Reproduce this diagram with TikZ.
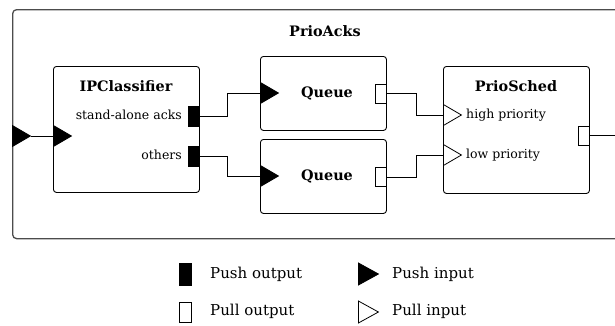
\documentclass[tikz,border=0pt]{standalone}
\usepackage{fontspec}
\setmainfont{DejaVu Serif}
\usetikzlibrary{shapes.geometric}
\tikzset{
  element/.style={draw=black, line width=0.9pt, rounded corners=3pt, fill=white, anchor=north west, inner sep=0pt},
  compound/.style={draw=black!70, line width=1.3pt, rounded corners=4pt, anchor=north west, inner sep=0pt},
  title/.style={font=\bfseries\fontsize{14.4}{16}\selectfont, inner sep=0pt},
  portlabel/.style={font=\fontsize{12.5}{14}\selectfont, inner sep=0pt},
  legendlabel/.style={font=\fontsize{15}{17}\selectfont, inner sep=0pt, anchor=west},
  pushout/.style={draw=black, fill=black, line width=0.8pt, minimum width=11pt, minimum height=20pt, inner sep=0pt},
  pullout/.style={draw=black, fill=white, line width=0.8pt, minimum width=11pt, minimum height=19pt, inner sep=0pt},
  pushin/.style={isosceles triangle, isosceles triangle stretches, draw=black, fill=black, line width=0.8pt,
                 minimum width=21pt, minimum height=18pt, inner sep=0pt, anchor=west},
  pullin/.style={pushin, fill=white},
  wire/.style={draw=black, line width=0.9pt},
}
\begin{document}
\begin{tikzpicture}[x=1pt,y=-1pt]
\clip (0,0) rectangle (615,325);

% enclosing compound element
\node[compound, minimum width=640pt, minimum height=229pt] (prioacks) at (12,9) {};
\node[title] (prioackstitle) at (325,31) {PrioAcks};
\node[pushin] (extin) at (12,136) {};

% IPClassifier
\node[element, minimum width=146pt, minimum height=126pt] (ipc) at (53,66) {};
\node[title] (ipctitle) at (126,86) {IPClassifier};
\node[portlabel, anchor=east] (salabel) at (182,115) {stand-alone acks};
\node[portlabel, anchor=east] (othlabel) at (182,155) {others};
\node[pushout] (sa) at (193.5,116) {};
\node[pushout] (oth) at (193.5,156) {};
\node[pushin] (ipcin) at (53,136) {};

% Queues
\node[element, minimum width=126pt, minimum height=74pt] (q1) at (260,56) {};
\node[title] (q1title) at (327,93) {Queue};
\node[pushin] (q1in) at (260,93) {};
\node[pullout] (q1out) at (380.5,93.5) {};

\node[element, minimum width=126pt, minimum height=74pt] (q2) at (260,139) {};
\node[title] (q2title) at (327,176) {Queue};
\node[pushin] (q2in) at (260,176) {};
\node[pullout] (q2out) at (380.5,177) {};

% PrioSched
\node[element, minimum width=146pt, minimum height=127pt] (ps) at (443,66) {};
\node[title] (pstitle) at (516,86) {PrioSched};
\node[pullin] (hp) at (443,115) {};
\node[pullin] (lp) at (443,155) {};
\node[portlabel, anchor=west] (hplabel) at (466,115) {high priority};
\node[portlabel, anchor=west] (lplabel) at (466,155) {low priority};
\node[pullout] (psout) at (583.5,135.5) {};
\coordinate (exit) at (625,135.5);

% connections
\draw[wire] (extin.east) -- (ipcin.west);
\draw[wire] (sa.east) -- ++(28,0) |- (q1in.west);
\draw[wire] (oth.east) -- ++(28,0) |- (q2in.west);
\draw[wire] (q1out.east) -- ++(30,0) |- (hp.west);
\draw[wire] (q2out.east) -- ++(30,0) |- (lp.west);
\draw[wire] (psout.east) -- (exit);

% legend
\node[pushout, minimum width=12pt, minimum height=22pt] (lgpushout) at (185,274) {};
\node[legendlabel] (lgpushouttext) at (210,274) {Push output};
\node[pullout, minimum width=12pt, minimum height=20pt] (lgpullout) at (185,312) {};
\node[legendlabel] (lgpullouttext) at (210,311) {Pull output};
\node[pushin, minimum width=22pt, minimum height=20pt] (lgpushin) at (358,274) {};
\node[legendlabel] (lgpushintext) at (392,274) {Push input};
\node[pullin, minimum width=22pt, minimum height=20pt] (lgpullin) at (358,312) {};
\node[legendlabel] (lgpullintext) at (392,311) {Pull input};
\end{tikzpicture}
\end{document}
